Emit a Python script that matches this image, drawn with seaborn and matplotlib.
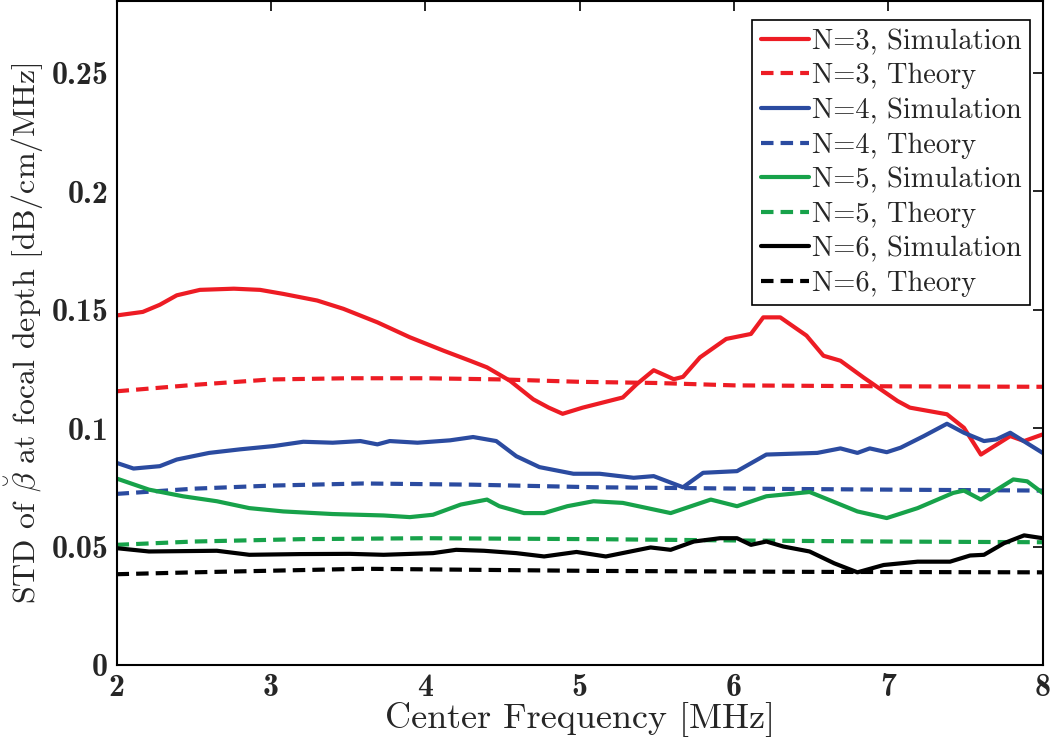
import numpy as np
import pandas as pd
import seaborn as sns
import matplotlib
matplotlib.use("Agg")
import matplotlib.pyplot as plt
from matplotlib.ticker import FixedLocator, FixedFormatter

# ---------------- data ----------------
f_red_sim = [2.0, 2.17, 2.28, 2.39, 2.54, 2.76, 2.93, 3.08, 3.30, 3.47, 3.69, 3.90, 4.12, 4.29, 4.40,
             4.55, 4.70, 4.80, 4.89, 5.02, 5.28, 5.37, 5.48, 5.61, 5.67, 5.78, 5.95, 6.11, 6.19, 6.30,
             6.47, 6.58, 6.69, 6.84, 7.06, 7.14, 7.38, 7.49, 7.60, 7.79, 7.88, 8.0]
v_red_sim = [0.1475, 0.149, 0.152, 0.156, 0.1583, 0.1588, 0.1583, 0.1566, 0.1538, 0.1503, 0.1446, 0.1383,
             0.1326, 0.1284, 0.1256, 0.1199, 0.1121, 0.1086, 0.106, 0.1086, 0.1129, 0.1185, 0.1244, 0.1206,
             0.1216, 0.1298, 0.1376, 0.1397, 0.1467, 0.1467, 0.139, 0.1305, 0.1284, 0.1213, 0.1114, 0.1086,
             0.1058, 0.1001, 0.0888, 0.0966, 0.0945, 0.0973]

f_red_th = [2.0, 2.5, 3.0, 3.5, 4.0, 4.5, 5.0, 5.5, 6.0, 7.0, 8.0]
v_red_th = [0.1155, 0.1182, 0.1205, 0.121, 0.121, 0.1205, 0.1195, 0.119, 0.118, 0.1176, 0.1174]

f_blue_sim = [2.0, 2.11, 2.28, 2.39, 2.60, 2.80, 3.02, 3.21, 3.40, 3.58, 3.69, 3.77, 3.95, 4.16, 4.31,
              4.46, 4.59, 4.74, 4.96, 5.13, 5.35, 5.48, 5.67, 5.80, 6.02, 6.21, 6.54, 6.69, 6.80, 6.88,
              6.99, 7.08, 7.23, 7.38, 7.49, 7.62, 7.70, 7.79, 8.0]
v_blue_sim = [0.0853, 0.0829, 0.0839, 0.0867, 0.0895, 0.091, 0.0924, 0.0942, 0.0938, 0.0945, 0.0931, 0.0945,
              0.0938, 0.0948, 0.0962, 0.0945, 0.0881, 0.0835, 0.0807, 0.0807, 0.079, 0.0797, 0.075, 0.0811,
              0.0818, 0.0888, 0.0895, 0.0914, 0.0895, 0.0914, 0.0898, 0.0917, 0.0966, 0.1018, 0.098, 0.0945,
              0.0952, 0.098, 0.0895]

f_blue_th = [2.0, 2.5, 3.0, 3.6, 4.3, 5.1, 6.1, 7.0, 8.0]
v_blue_th = [0.0722, 0.0744, 0.0757, 0.0766, 0.0761, 0.075, 0.0744, 0.074, 0.0736]

f_green_sim = [2.0, 2.21, 2.43, 2.65, 2.86, 3.08, 3.40, 3.73, 3.90, 4.05, 4.23, 4.40, 4.48, 4.64, 4.77,
               4.92, 5.09, 5.28, 5.59, 5.85, 6.02, 6.21, 6.49, 6.80, 6.99, 7.19, 7.42, 7.49, 7.60, 7.81,
               7.90, 8.0]
v_green_sim = [0.0787, 0.074, 0.0712, 0.0691, 0.0662, 0.0648, 0.0637, 0.0631, 0.0624, 0.0634, 0.0677, 0.0698,
               0.067, 0.0641, 0.0641, 0.067, 0.0691, 0.0684, 0.0641, 0.0698, 0.067, 0.0712, 0.073, 0.0648,
               0.062, 0.0662, 0.0726, 0.0736, 0.0698, 0.0783, 0.0775, 0.0726]

f_green_th = [2.0, 2.5, 3.2, 4.0, 5.1, 6.1, 7.0, 8.0]
v_green_th = [0.0507, 0.0521, 0.0531, 0.0535, 0.0531, 0.0525, 0.0521, 0.0518]

f_black_sim = [2.0, 2.21, 2.65, 2.86, 3.19, 3.51, 3.73, 4.05, 4.20, 4.38, 4.59, 4.77, 4.98, 5.17, 5.46,
               5.59, 5.74, 5.91, 6.02, 6.11, 6.21, 6.32, 6.49, 6.65, 6.80, 6.97, 7.19, 7.40, 7.53, 7.62,
               7.75, 7.88, 8.0]
v_black_sim = [0.0493, 0.0479, 0.0482, 0.0465, 0.0468, 0.0469, 0.0465, 0.0472, 0.0486, 0.0482, 0.0472, 0.0458,
               0.0477, 0.0458, 0.0496, 0.0486, 0.0521, 0.0535, 0.0535, 0.0507, 0.0521, 0.05, 0.0479, 0.0429,
               0.0391, 0.0422, 0.0436, 0.0436, 0.0462, 0.0465, 0.0514, 0.0547, 0.0535]

f_black_th = [2.0, 2.5, 3.6, 5.1, 6.5, 8.0]
v_black_th = [0.0383, 0.0391, 0.0406, 0.0397, 0.0393, 0.0391]

x_ticks = [2, 3, 4, 5, 6, 7, 8]
x_tick_labels = ["2", "3", "4", "5", "6", "7", "8"]
y_ticks = [0, 0.05, 0.1, 0.15, 0.2, 0.25]
y_tick_labels = ["0", "0.05", "0.1", "0.15", "0.2", "0.25"]

series = [
    ("N=3, Simulation", f_red_sim, v_red_sim, "#ED1C24", "-"),
    ("N=3, Theory", f_red_th, v_red_th, "#ED1C24", "--"),
    ("N=4, Simulation", f_blue_sim, v_blue_sim, "#2B4BA0", "-"),
    ("N=4, Theory", f_blue_th, v_blue_th, "#2B4BA0", "--"),
    ("N=5, Simulation", f_green_sim, v_green_sim, "#17A24A", "-"),
    ("N=5, Theory", f_green_th, v_green_th, "#17A24A", "--"),
    ("N=6, Simulation", f_black_sim, v_black_sim, "#000000", "-"),
    ("N=6, Theory", f_black_th, v_black_th, "#000000", "--"),
]

# ---------------- plot ----------------
sns.set_style("white")
plt.rcParams["mathtext.fontset"] = "cm"
plt.rcParams["font.family"] = ["cmr10", "DejaVu Serif"]
plt.rcParams["axes.unicode_minus"] = False

fig = plt.figure(figsize=(10.5, 7.43), dpi=100)
ax = fig.add_axes([0.111, 0.105, 0.882, 0.893])

for label, fx, vy, color, ls in series:
    df = pd.DataFrame({"f": fx, "v": vy})
    line_kw = dict(color=color, linewidth=3.0, label=label)
    if ls == "--":
        line_kw["dashes"] = (3.0, 1.7)
    sns.lineplot(data=df, x="f", y="v", ax=ax, **line_kw)

ax.set_xlim(2, 8)
ax.set_ylim(0, 0.28)
ax.xaxis.set_major_locator(FixedLocator(x_ticks))
ax.xaxis.set_major_formatter(FixedFormatter(x_tick_labels))
ax.yaxis.set_major_locator(FixedLocator(y_ticks))
ax.yaxis.set_major_formatter(FixedFormatter(y_tick_labels))

for lab in ax.get_xticklabels() + ax.get_yticklabels():
    lab.set_fontfamily(["cmb10", "DejaVu Serif"])
    lab.set_fontsize(23)

ax.tick_params(axis="both", direction="in", length=7, width=1.2, color="black",
               top=True, right=True, pad=6)
for side in ["top", "right", "bottom", "left"]:
    ax.spines[side].set_visible(True)
    ax.spines[side].set_color("black")
    ax.spines[side].set_linewidth(1.5)

ax.set_xlabel("Center Frequency [MHz]", fontsize=26, labelpad=0)
ax.set_ylabel(r"STD of $\breve{\beta}$ at focal depth [dB/cm/MHz]", fontsize=23, labelpad=4)

leg = ax.legend(loc="upper right", bbox_to_anchor=(0.996, 0.985), fontsize=20.5,
                handlelength=1.7, handletextpad=0.1, labelspacing=0.29,
                borderpad=0.3, borderaxespad=0.3, frameon=True, fancybox=False,
                framealpha=1, edgecolor="black")
leg.get_frame().set_linewidth(1.2)

fig.savefig("out.png", dpi=100)
